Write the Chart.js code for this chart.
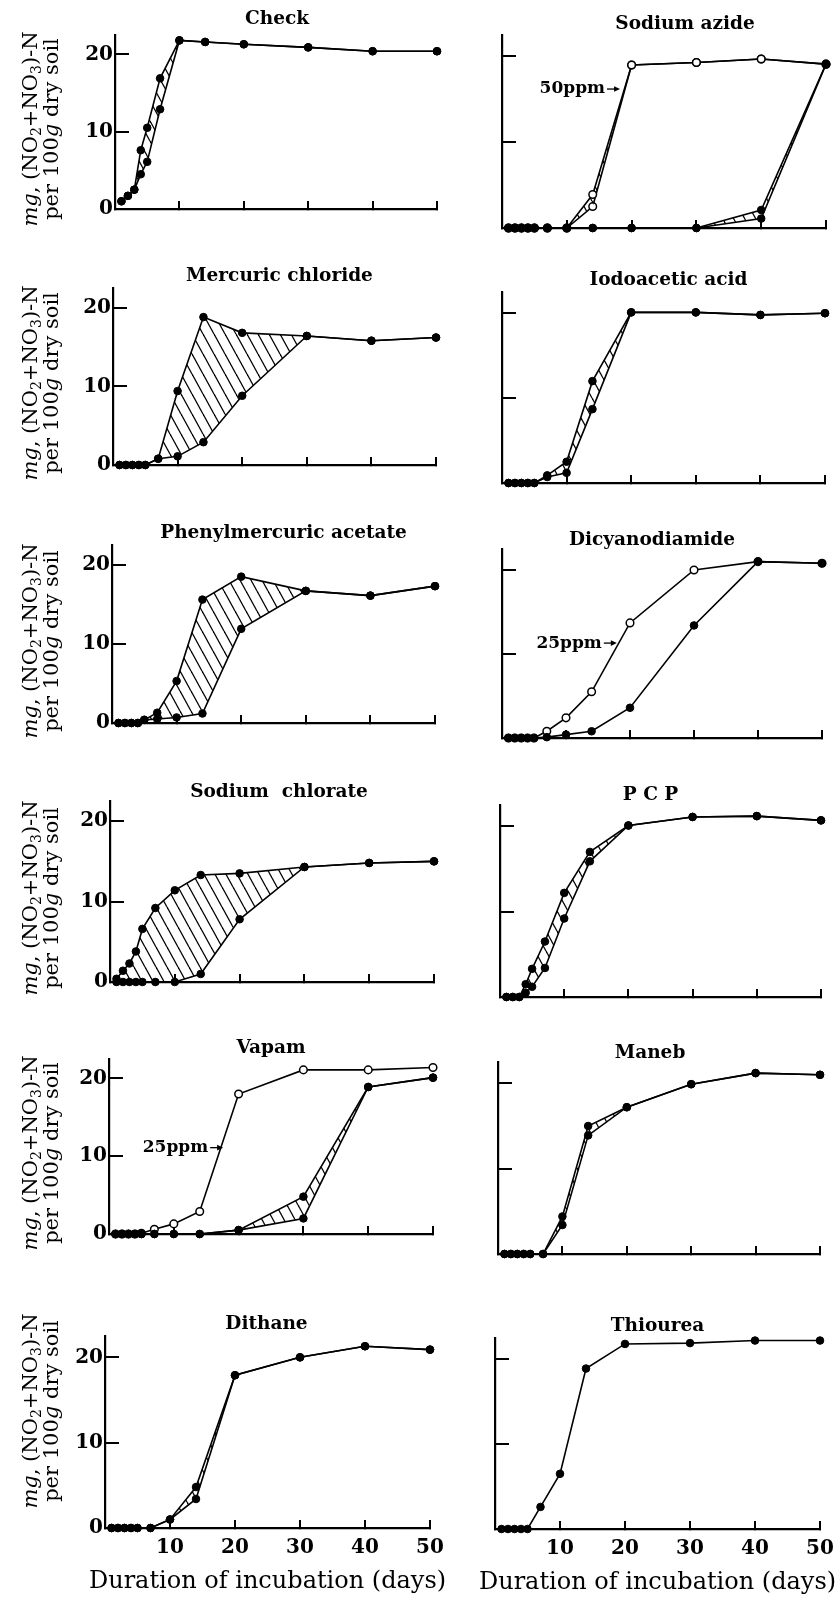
<!DOCTYPE html>
<html>
<head>
<meta charset="utf-8">
<script src="https://cdn.jsdelivr.net/npm/chart.js@4.4.1/dist/chart.umd.min.js"></script>
<style>
  html, body { margin: 0; padding: 0; background: #fff; }
  body { width: 837px; height: 1603px; position: relative; overflow: hidden; }
  canvas { position: absolute; }
  .ylab {
    position: absolute; width: 260px; height: 42px;
    font-family: "DejaVu Serif", serif; font-size: 21px; line-height: 21px;
    text-align: center; white-space: nowrap; color: #000;
    transform: rotate(-90deg);
  }
  .ylab sub { font-size: 14px; vertical-align: -4px; line-height: 0; }
</style>
</head>
<body>
<script>
// sampling days and axis ticks
const DAYS = [1, 2, 3, 4, 5, 7, 10, 14, 20, 30, 40, 50];
const X_TICKS = [0, 10, 20, 30, 40, 50];
const Y_TICKS = [0, 10, 20];
const X_TITLE = 'Duration of incubation (days)';

// mg (NO2+NO3)-N per 100 g dry soil
const checkUpper    = [1.0, 1.7, 2.5, 7.6, 10.5, 16.9, 21.8, 21.6, 21.3, 20.9, 20.4, 20.4];
const checkLower    = [1.0, 1.7, 2.5, 4.5, 6.1, 12.9, 21.8, 21.6, 21.3, 20.9, 20.4, 20.4];
const azideUpper    = [0, 0, 0, 0, 0, 0, 0, 0, 0, 0, 2.1, 19.1];
const azideLower    = [0, 0, 0, 0, 0, 0, 0, 0, 0, 0, 1.1, 19.1];
const azide50Upper  = [0, 0, 0, 0, 0, 0, 0, 3.9, 19.0, 19.3, 19.7, 19.1];
const azide50Lower  = [0, 0, 0, 0, 0, 0, 0, 2.5, 19.0, 19.3, 19.7, 19.1];
const mercUpper     = [0, 0, 0, 0, 0, 0.8, 9.4, 18.8, 16.8, 16.4, 15.8, 16.2];
const mercLower     = [0, 0, 0, 0, 0, 0.8, 1.1, 2.9, 8.8, 16.4, 15.8, 16.2];
const iodoUpper     = [0, 0, 0, 0, 0, 0.9, 2.5, 12.0, 20.1, 20.1, 19.8, 20.0];
const iodoLower     = [0, 0, 0, 0, 0, 0.7, 1.2, 8.7, 20.1, 20.1, 19.8, 20.0];
const pmaUpper      = [0, 0, 0, 0, 0.4, 1.3, 5.3, 15.6, 18.5, 16.7, 16.1, 17.3];
const pmaLower      = [0, 0, 0, 0, 0.4, 0.5, 0.7, 1.2, 11.9, 16.7, 16.1, 17.3];
const dcdPlain      = [0, 0, 0, 0, 0, 0.1, 0.4, 0.8, 3.6, 13.4, 21.0, 20.8];
const dcd25         = [0, 0, 0, 0, 0, 0.8, 2.4, 5.5, 13.7, 20.0, 21.0, 20.8];
const chlorateUpper = [0.4, 1.4, 2.3, 3.8, 6.6, 9.2, 11.4, 13.3, 13.5, 14.3, 14.8, 15.0];
const chlorateLower = [0, 0, 0, 0, 0, 0, 0, 1.0, 7.8, 14.3, 14.8, 15.0];
const pcpUpper      = [0, 0, 0, 1.5, 3.3, 6.5, 12.2, 17.0, 20.1, 21.1, 21.2, 20.7];
const pcpLower      = [0, 0, 0, 0.5, 1.2, 3.4, 9.2, 15.9, 20.1, 21.1, 21.2, 20.7];
const vapamUpper    = [0, 0, 0, 0, 0, 0, 0, 0, 0.5, 4.8, 18.9, 20.1];
const vapamLower    = [0, 0, 0, 0, 0, 0, 0, 0, 0.5, 2.0, 18.9, 20.1];
const vapam25       = [0, 0, 0, 0, 0.1, 0.6, 1.3, 2.9, 18.0, 21.1, 21.1, 21.4];
const manebUpper    = [0, 0, 0, 0, 0, 0, 4.4, 15.0, 17.2, 19.9, 21.2, 21.0];
const manebLower    = [0, 0, 0, 0, 0, 0, 3.4, 13.9, 17.2, 19.9, 21.2, 21.0];
const dithaneUpper  = [0, 0, 0, 0, 0, 0, 1.0, 4.8, 17.9, 20.0, 21.3, 20.9];
const dithaneLower  = [0, 0, 0, 0, 0, 0, 1.0, 3.4, 17.9, 20.0, 21.3, 20.9];
const thiourea      = [0, 0, 0, 0, 0, 2.6, 6.5, 18.9, 21.8, 21.9, 22.2, 22.2];

// plot boxes per row: [x of day 0, x of day 50, y of 22.5, y of 0], left / right column
const BOXES = [
    [[115, 437, 35, 223], [502, 826, 35, 228]],
    [[113, 436, 288, 479], [502, 825, 292, 483]],
    [[112, 435, 545, 737], [502, 822, 549, 738]],
    [[110, 434, 801, 996], [500, 821, 805, 997]],
    [[109, 433, 1059, 1248], [498, 820, 1062, 1254]],
    [[105, 430, 1336, 1528], [495, 820, 1338, 1529]]
];
const YLABEL_CENTERS = [129, 383, 641, 898, 1153, 1411];

// series: [values, marker, shade down to next series]
const PANELS = [
    { title: 'Check', row: 0, col: 0, gap: 16, dx: 1,
      series: [[checkUpper, 'dot', true], [checkLower, 'dot']] },
    { title: 'Sodium azide', row: 0, col: 1, gap: 11, dx: 21,
      note: { text: '50ppm', x: 15.9, y: 16.2 },
      series: [[azideUpper, 'dot', true], [azideLower, 'dot'], [azide50Upper, 'open', true], [azide50Lower, 'open']] },
    { title: 'Mercuric chloride', row: 1, col: 0, gap: 12, dx: 5,
      series: [[mercUpper, 'dot', true], [mercLower, 'dot']] },
    { title: 'Iodoacetic acid', row: 1, col: 1, gap: 12, dx: 5,
      series: [[iodoUpper, 'dot', true], [iodoLower, 'dot']] },
    { title: 'Phenylmercuric acetate', row: 2, col: 0, gap: 12, dx: 10,
      series: [[pmaUpper, 'dot', true], [pmaLower, 'dot']] },
    { title: 'Dicyanodiamide', row: 2, col: 1, gap: 9, dx: -10,
      note: { text: '25ppm', x: 15.6, y: 11.3 },
      series: [[dcdPlain, 'dot'], [dcd25, 'open']] },
    { title: 'Sodium  chlorate', row: 3, col: 0, gap: 9, dx: 7,
      series: [[chlorateUpper, 'dot', true], [chlorateLower, 'dot']] },
    { title: 'P C P', row: 3, col: 1, gap: 10, dx: -10,
      series: [[pcpUpper, 'dot', true], [pcpLower, 'dot']] },
    { title: 'Vapam', row: 4, col: 0, gap: 11, dx: 0,
      note: { text: '25ppm', x: 15.3, y: 11.1 },
      series: [[vapamUpper, 'dot', true], [vapamLower, 'dot'], [vapam25, 'open']] },
    { title: 'Maneb', row: 4, col: 1, gap: 9, dx: -9,
      series: [[manebUpper, 'dot', true], [manebLower, 'dot']] },
    { title: 'Dithane', row: 5, col: 0, gap: 12, dx: -1,
      series: [[dithaneUpper, 'dot', true], [dithaneLower, 'dot']] },
    { title: 'Thiourea', row: 5, col: 1, gap: 12, dx: 0,
      series: [[thiourea, 'dot']] }
];

const SERIF = '"DejaVu Serif", "Liberation Serif", serif';

const makeHatch = () => {
    const tile = document.createElement('canvas');
    tile.width = 11;
    tile.height = 20;
    const g = tile.getContext('2d');
    g.strokeStyle = '#000';
    g.lineWidth = 1.3;
    [-11, 0, 11].forEach((ox) => {
        g.beginPath();
        g.moveTo(ox, 0);
        g.lineTo(ox + 11, 20);
        g.stroke();
    });
    return g.createPattern(tile, 'repeat');
};
const HATCH = makeHatch();

// panel title, bottom axis caption and the "ppm" arrows
const panelDecor = {
    id: 'panelDecor',
    afterDraw(chart, args, opts) {
        const { ctx, chartArea, scales } = chart;
        const midX = (chartArea.left + chartArea.right) / 2;
        ctx.save();
        ctx.fillStyle = '#000';
        ctx.strokeStyle = '#000';
        ctx.font = `bold 18.5px ${SERIF}`;
        ctx.textAlign = 'center';
        ctx.textBaseline = 'middle';
        ctx.fillText(opts.title, midX + opts.dx, chartArea.top - opts.gap);
        if (opts.xTitle) {
            ctx.font = `24px ${SERIF}`;
            ctx.fillText(opts.xTitle, midX, chartArea.bottom + 54);
        }
        if (opts.note) {
            const x = scales.x.getPixelForValue(opts.note.x);
            const y = scales.y.getPixelForValue(opts.note.y);
            ctx.font = `bold 17px ${SERIF}`;
            ctx.textAlign = 'right';
            ctx.fillText(opts.note.text, x, y);
            ctx.lineWidth = 1.3;
            ctx.beginPath();
            ctx.moveTo(x + 2, y);
            ctx.lineTo(x + 11, y);
            ctx.stroke();
            ctx.beginPath();
            ctx.moveTo(x + 15, y);
            ctx.lineTo(x + 9, y - 2.8);
            ctx.lineTo(x + 9, y + 2.8);
            ctx.closePath();
            ctx.fill();
        }
        ctx.restore();
    }
};

const makeDataset = ([values, marker, shade]) => ({
    data: DAYS.map((d, i) => ({ x: d, y: values[i] })),
    borderColor: '#000',
    borderWidth: 1.6,
    tension: 0,
    clip: false,
    pointRadius: 3.8,
    pointHoverRadius: 3.8,
    pointBorderWidth: marker === 'open' ? 1.5 : 1,
    pointBorderColor: '#000',
    pointBackgroundColor: marker === 'open' ? '#fff' : '#000',
    backgroundColor: HATCH,
    fill: shade ? '+1' : false
});

const buildPanel = (panel) => {
    const [xL, xR, yT, yB] = BOXES[panel.row][panel.col];
    const isLeft = panel.col === 0;
    const isBottom = panel.row === BOXES.length - 1;
    const yW = isLeft ? 64 : 20;
    const xH = isBottom ? 72 : 14;
    const padTop = 34;
    const padRight = isBottom ? 30 : 16;
    const padLeft = isBottom ? 30 : 0;

    const canvas = document.createElement('canvas');
    canvas.width = xR - xL + yW + padRight + padLeft;
    canvas.height = yB - yT + padTop + xH;
    canvas.style.left = (xL - yW - padLeft) + 'px';
    canvas.style.top = (yT - padTop) + 'px';
    document.body.appendChild(canvas);

    const tickFont = { family: SERIF, weight: 'bold', size: 20 };

    new Chart(canvas, {
        type: 'line',
        data: { datasets: panel.series.map(makeDataset) },
        plugins: [panelDecor],
        options: {
            responsive: false,
            animation: false,
            events: [],
            layout: { padding: { top: padTop, right: padRight, left: padLeft, bottom: 0 } },
            plugins: {
                legend: { display: false },
                tooltip: { enabled: false },
                title: { display: false },
                panelDecor: {
                    title: panel.title,
                    gap: panel.gap,
                    dx: panel.dx,
                    note: panel.note,
                    xTitle: isBottom ? X_TITLE : null
                }
            },
            scales: {
                x: {
                    type: 'linear',
                    min: 0,
                    max: 50,
                    afterBuildTicks: (s) => { s.ticks = X_TICKS.map((v) => ({ value: v })); },
                    afterFit: (s) => { s.height = xH; },
                    grid: { drawOnChartArea: false, tickLength: -8, lineWidth: 2, color: '#000' },
                    border: { display: true, color: '#000', width: 2.2 },
                    ticks: {
                        display: isBottom,
                        padding: 16,
                        autoSkip: false,
                        maxRotation: 0,
                        color: '#000',
                        font: tickFont,
                        callback: (v) => (v === 0 ? '' : String(v))
                    }
                },
                y: {
                    type: 'linear',
                    min: 0,
                    max: 22.5,
                    afterBuildTicks: (s) => { s.ticks = Y_TICKS.map((v) => ({ value: v })); },
                    afterFit: (s) => { s.width = yW; },
                    grid: { drawOnChartArea: false, tickLength: -14, lineWidth: 2, color: '#000' },
                    border: { display: true, color: '#000', width: 2.2 },
                    ticks: { display: isLeft, padding: 16, color: '#000', font: tickFont }
                }
            }
        }
    });
};

PANELS.forEach(buildPanel);

// rotated y-axis captions of the left column
YLABEL_CENTERS.forEach((cy) => {
    const div = document.createElement('div');
    div.className = 'ylab';
    div.style.left = (41 - 130) + 'px';
    div.style.top = (cy - 21) + 'px';
    div.innerHTML = '<i>mg</i>, (NO<sub>2</sub>+NO<sub>3</sub>)-N<br>per 100<i>g</i> dry soil';
    document.body.appendChild(div);
});
</script>
</body>
</html>
